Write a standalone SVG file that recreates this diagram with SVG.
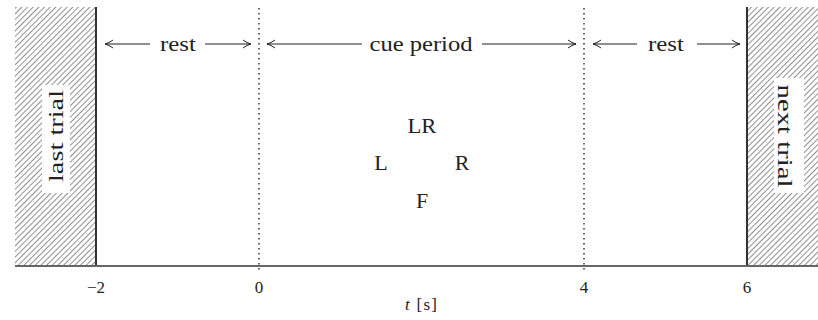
<svg xmlns="http://www.w3.org/2000/svg" width="818" height="320" viewBox="0 0 818 320">
<defs>
<pattern id="hatch" width="4" height="4" patternUnits="userSpaceOnUse" patternTransform="rotate(45)">
<line x1="0" y1="0" x2="0" y2="4" stroke="#222" stroke-width="1"/>
</pattern>
<marker id="ah" viewBox="0 0 10 10" refX="9" refY="5" markerWidth="10" markerHeight="10" markerUnits="userSpaceOnUse" orient="auto-start-reverse">
<path d="M1,1 Q5,4 9,5 Q5,6 1,9" fill="none" stroke="#222" stroke-width="1"/>
</marker>
<style>
text{font-family:"Liberation Serif","DejaVu Serif",serif;fill:#222}
.lab{font-size:22px}
.tick{font-size:17px}
.arr{stroke:#222;stroke-width:1.2;fill:none}
.dot{stroke:#333;stroke-width:1.5;stroke-dasharray:1.5 3.5}
.solid{stroke:#333;stroke-width:2}
</style>
</defs>
<rect width="818" height="320" fill="#fff"/>
<g id="last-trial">
<rect x="15" y="7" width="81" height="259" fill="url(#hatch)"/>
<rect x="42" y="85" width="28" height="108" fill="#fff"/>
<text class="lab" transform="translate(63,136) rotate(-90)" text-anchor="middle" textLength="92" lengthAdjust="spacingAndGlyphs">last trial</text>
</g>
<g id="next-trial">
<rect x="747" y="7" width="71" height="259" fill="url(#hatch)"/>
<rect x="774" y="78" width="30" height="115" fill="#fff"/>
<text class="lab" transform="translate(778,136) rotate(90)" text-anchor="middle" textLength="103" lengthAdjust="spacingAndGlyphs">next trial</text>
</g>
<g id="axis">
<line class="solid" x1="96" y1="7" x2="96" y2="266"/>
<line class="solid" x1="747" y1="7" x2="747" y2="266"/>
<line class="dot" x1="259" y1="8" x2="259" y2="272"/>
<line class="dot" x1="584" y1="8" x2="584" y2="272"/>
<line x1="15" y1="266" x2="818" y2="266" stroke="#666" stroke-width="2"/>
<text class="tick" x="96" y="293" text-anchor="middle">−2</text>
<text class="tick" x="259" y="293" text-anchor="middle">0</text>
<text class="tick" x="584" y="293" text-anchor="middle">4</text>
<text class="tick" x="747" y="293" text-anchor="middle">6</text>
<text class="tick" x="421" y="310" text-anchor="middle" textLength="32" lengthAdjust="spacing"><tspan font-style="italic">t</tspan> [s]</text>
</g>
<g id="connectors">
<line class="arr" x1="150" y1="44" x2="105" y2="44" marker-end="url(#ah)"/>
<line class="arr" x1="205" y1="44" x2="251" y2="44" marker-end="url(#ah)"/>
<line class="arr" x1="362" y1="44" x2="267" y2="44" marker-end="url(#ah)"/>
<line class="arr" x1="482" y1="44" x2="576" y2="44" marker-end="url(#ah)"/>
<line class="arr" x1="637" y1="44" x2="593" y2="44" marker-end="url(#ah)"/>
<line class="arr" x1="697" y1="44" x2="740" y2="44" marker-end="url(#ah)"/>
</g>
<g id="rest-1"><text class="lab" x="178" y="51" text-anchor="middle" textLength="36" lengthAdjust="spacingAndGlyphs">rest</text></g>
<g id="cue-period"><text class="lab" x="421" y="51" text-anchor="middle" textLength="103" lengthAdjust="spacingAndGlyphs">cue period</text></g>
<g id="rest-2"><text class="lab" x="666" y="51" text-anchor="middle" textLength="36" lengthAdjust="spacingAndGlyphs">rest</text></g>
<g id="LR"><text class="lab" x="422" y="133" text-anchor="middle" textLength="29" lengthAdjust="spacingAndGlyphs">LR</text></g>
<g id="L"><text class="lab" x="381" y="170" text-anchor="middle">L</text></g>
<g id="R"><text class="lab" x="462" y="170" text-anchor="middle">R</text></g>
<g id="F"><text class="lab" x="422" y="208" text-anchor="middle">F</text></g>
</svg>
